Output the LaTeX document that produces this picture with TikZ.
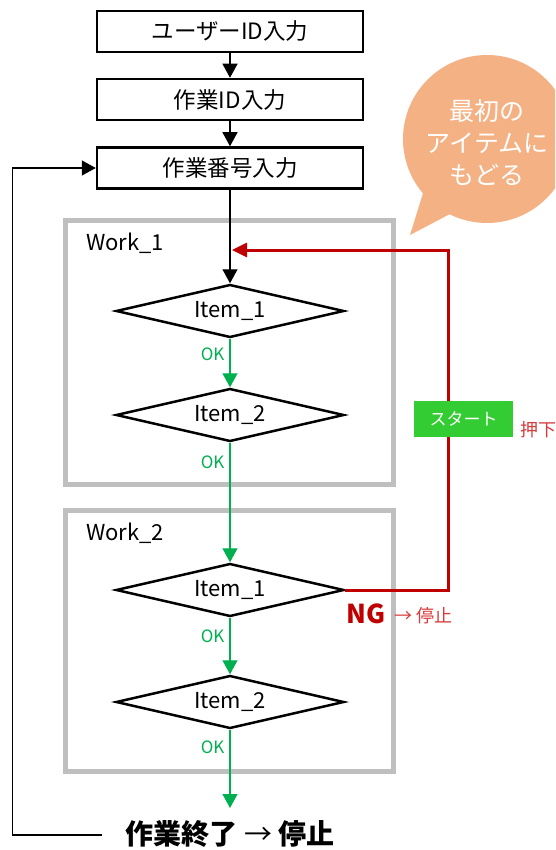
\documentclass[tikz,border=0pt]{standalone}
\usepackage{fontspec}
\setmainfont{Noto Sans CJK JP}
\usetikzlibrary{arrows.meta,shapes.geometric,positioning}

\definecolor{framegray}{HTML}{BFBFBF}
\definecolor{okgreen}{HTML}{00B050}
\definecolor{ngred}{HTML}{C00000}
\definecolor{stopred}{RGB}{215,60,60}
\definecolor{bubbleorange}{HTML}{F4B183}
\definecolor{startgreen}{HTML}{33CC33}

\tikzset{
    inputbox/.style={draw, line width=2.5pt, minimum width=266pt, minimum height=41pt,
        inner sep=0pt, font=\fontsize{22.5}{25}\selectfont},
    itemdia/.style={diamond, draw, line width=2.5pt, aspect=4.2, minimum width=228pt,
        minimum height=53pt, inner sep=0pt, font=\fontsize{22}{24}\selectfont},
    workframe/.style={draw=framegray, line width=5pt},
    worklabel/.style={anchor=west, inner sep=0pt, font=\fontsize{22}{24}\selectfont},
    blkarrow/.style={line width=1.3pt, -{Triangle[length=14pt,width=15pt]}},
    okarrow/.style={draw=okgreen, line width=1.3pt, -{Triangle[length=14pt,width=15pt]}},
    oklabel/.style={left, inner sep=5pt, text=okgreen, font=\fontsize{17}{18}\selectfont},
    ngline/.style={draw=ngred, line width=3pt, -{Triangle[length=15pt,width=14pt]}},
    startbtn/.style={fill=startgreen, text=white, minimum width=99pt, minimum height=36pt,
        inner sep=0pt, font=\fontsize{17}{18}\selectfont}
}

\begin{document}
\begin{tikzpicture}[x=1pt, y=-1pt]
    \useasboundingbox (0,0) rectangle (555,850);
    \clip (0,0) rectangle (555,850);

    % Work frames
    \draw[workframe] (65.5,220.5) rectangle (393.5,484.5);
    \node[worklabel] (work1) at (86,243) {Work\_1};
    \draw[workframe] (65.5,510) rectangle (393.5,771.5);
    \node[worklabel] (work2) at (86,533) {Work\_2};

    % Speech bubble
    \fill[bubbleorange] (487,139) circle (84);
    \fill[bubbleorange] (424,190) -- (410,235) -- (450,214) -- cycle;
    \node[text=white, align=center, font=\fontsize{25}{32}\selectfont] (bubbletext) at (487,143)
        {最初の\\アイテムに\\もどる};

    % Input steps
    \node[inputbox] (userid) at (230,31.5) {ユーザーID入力};
    \node[inputbox] (workid) at (230,99.5) {作業ID入力};
    \node[inputbox] (worknum) at (230,168) {作業番号入力};

    % Items
    \node[itemdia] (wAitemA) at (230,311) {Item\_1};
    \node[itemdia] (wAitemB) at (230,415) {Item\_2};
    \node[itemdia] (wBitemA) at (230,590) {Item\_1};
    \node[itemdia] (wBitemB) at (230,702) {Item\_2};

    % End
    \node[font=\fontsize{28}{30}\selectfont] (done) at (230,834)
        {\textbf{作業終了} → \textbf{停止}};
    \coordinate (doneup) at (230,808);
    \coordinate (loopend) at (102,835);
    \coordinate (backtop) at (232,250);

    % NG back to first item
    \draw[ngline] (wBitemA.east) -| (448,250) -- (backtop);
    \node[startbtn] (start) at (463.5,419) {スタート};
    \node[text=stopred, font=\fontsize{18}{20}\selectfont] (push) at (538,430) {押下};
    \node[text=ngred, font=\fontsize{26}{28}\selectfont\bfseries] (ng) at (366,614) {NG};
    \node[text=stopred, font=\fontsize{18}{20}\selectfont, right=2pt of ng, yshift=-2pt] (ngstop) {→ 停止};

    % Flow
    \draw[blkarrow] (userid) -- (workid);
    \draw[blkarrow] (workid) -- (worknum);
    \draw[blkarrow] (worknum) -- (wAitemA);
    \draw[okarrow] (wAitemA) -- node[oklabel, pos=0.33] {OK} (wAitemB);
    \draw[okarrow] (wAitemB) -- node[oklabel, pos=0.16] {OK} (wBitemA);
    \draw[okarrow] (wBitemA) -- node[oklabel, pos=0.32] {OK} (wBitemB);
    \draw[okarrow] (wBitemB) -- node[oklabel, pos=0.23] {OK} (doneup);

    % Loop back to work number
    \draw[blkarrow] (loopend) -| (12.5,168) -- (worknum.west);
\end{tikzpicture}
\end{document}
